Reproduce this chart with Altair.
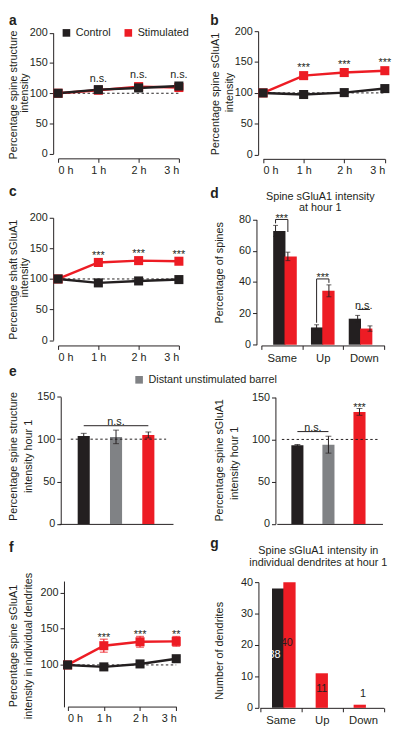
import altair as alt
import pandas as pd

FONT = "Liberation Sans"
INK = "#231f20"
RED = "#ed1c24"
GREY = "#808285"

# ---------------- data ----------------
times = [0, 1, 2, 3]
groups = ["Control", "Stimulated"]

a_control = [100, 106, 108.8, 112]
a_control_err = [1.5, 2, 2, 2.5]
a_stim = [100, 105, 111, 109.5]
a_stim_err = [1.5, 2, 2.5, 2.5]
a_sig = ["", "n.s.", "n.s.", "n.s."]

b_control = [100, 97.4, 100.5, 107]
b_control_err = [1.5, 2, 2, 2.5]
b_stim = [100, 128, 133, 136]
b_stim_err = [1.5, 3, 3, 3.5]
b_sig = ["", "***", "***", "***"]

c_control = [100, 93.6, 96.8, 99]
c_control_err = [1.5, 2, 2, 2]
c_stim = [100, 127, 130, 129]
c_stim_err = [1.5, 3, 3, 3]
c_sig = ["", "***", "***", "***"]

d_cats = ["Same", "Up", "Down"]
d_control = [72.7, 11, 16.6]
d_control_err = [3.5, 1.7, 2.1]
d_stim = [56.4, 34.4, 10.3]
d_stim_err = [2.7, 3.8, 1.7]
d_sig = ["***", "***", "n.s."]

e_groups = ["Control", "Distant unstimulated barrel", "Stimulated"]
e_structure = [103.9, 102.7, 105]
e_structure_err = [3, 8, 3.5]
e_glua = [93, 93.8, 132.6]
e_glua_err = [1, 10, 4]

f_control = [100, 97.3, 101.4, 108.6]
f_control_err = [1.5, 2.5, 2.5, 3]
f_stim = [100, 126.6, 132, 132.6]
f_stim_err = [1.5, 9, 7.5, 6.8]
f_sig = ["", "***", "***", "**"]

g_cats = ["Same", "Up", "Down"]
g_control = [38, 0, 0]
g_stim = [40, 11, 1]


# ---------------- helpers ----------------
def text_layer(txt, x, y, size=11, weight="normal", align="left",
               baseline="alphabetic", color=INK, angle=0):
    kw = dict(font=FONT, fontSize=size, fontWeight=weight, align=align,
              baseline=baseline, color=color)
    if angle:
        kw["angle"] = angle
    return alt.Chart(pd.DataFrame({"t": [txt]})).mark_text(**kw).encode(
        x=alt.value(x), y=alt.value(y), text="t:N")


def title_layers(lines, xs, ycs):
    """Rotated y-axis title, one text layer per line."""
    return [text_layer(t, x, y, align="center", baseline="middle", angle=270)
            for t, x, y in zip(lines, xs, ycs)]


def y_axis(p):
    return alt.Axis(values=p["yticks"], offset=p["yoff"], title=None)


def line_panel(ctrl, ctrl_err, stim, stim_err, sig, p, legend=None):
    recs = []
    for grp, vals, errs in (("Stimulated", stim, stim_err), ("Control", ctrl, ctrl_err)):
        for t, v, e in zip(times, vals, errs):
            recs.append({"time": t, "group": grp, "value": v, "lo": v - e, "hi": v + e})
    df = pd.DataFrame(recs)
    tops = df.groupby("time")["hi"].max()
    sig_df = pd.DataFrame({"time": times, "label": sig, "top": [tops[t] for t in times]})

    xs = alt.Scale(domain=[0, 3], range=p["xr"], nice=False, zero=False)
    ys = alt.Scale(domain=p["ydom"], range=p["yr"], nice=False, zero=False)
    xax = alt.Axis(values=times, labelExpr="datum.value + ' h'", offset=p["xoff"], title=None)
    yax = y_axis(p)

    def X(f):
        return alt.X(f, type="quantitative", scale=xs, axis=xax)

    def Y(f):
        return alt.Y(f, type="quantitative", scale=ys, axis=yax)

    layers = []
    ref = pd.DataFrame({"x0": [0], "x1": [3], "y": [100]})
    layers.append(alt.Chart(ref).mark_rule(color=INK, strokeWidth=1, strokeDash=[2.5, 2.5]).encode(
        x=X("x0"), x2="x1:Q", y=Y("y")))
    for grp, col in (("Stimulated", RED), ("Control", INK)):
        sub = df[df["group"] == grp]
        base = alt.Chart(sub)
        layers.append(base.mark_line(color=col, strokeWidth=2.5).encode(x=X("time"), y=Y("value")))
        layers.append(base.mark_rule(color=col, strokeWidth=1.2).encode(x=X("time"), y=Y("lo"), y2="hi:Q"))
        for end in ("lo", "hi"):
            layers.append(base.mark_tick(orient="horizontal", color=col, size=p["cap"], thickness=1.2).encode(
                x=X("time"), y=Y(end)))
    layers.append(alt.Chart(df).mark_square(size=85, opacity=1).encode(
        x=X("time"), y=Y("value"),
        fill=alt.Fill("group:N", scale=alt.Scale(domain=groups, range=[INK, RED]), legend=legend)))
    layers.append(alt.Chart(sig_df).mark_text(font=FONT, fontSize=11, color=INK, dy=p["sdy"],
                                             baseline="alphabetic").encode(
        x=X("time"), y=Y("top"), text="label:N"))
    layers += title_layers(p["title"], p["tx"], p["ty"])
    lt, lx, ly = p["letter"]
    layers.append(text_layer(lt, lx, ly, size=14, weight="bold"))
    return alt.layer(*layers).properties(width=192, height=p["h"])


LEG = dict(title=None, orient="none", direction="horizontal", symbolType="square",
           symbolSize=60, symbolStrokeWidth=0, labelFont=FONT, labelFontSize=11,
           labelColor=INK, labelOffset=4, columnPadding=12, padding=0)

# ---------------- panel a ----------------
pa = line_panel(a_control, a_control_err, a_stim, a_stim_err, a_sig, dict(
    h=162, xr=[50, 173], yr=[141.7, 18.7], ydom=[0, 200], yticks=[0, 50, 100, 150, 200],
    yoff=-45, xoff=-15.5, title=["Percentage spine structure", "intensity"],
    tx=[5.5, 16.5], ty=[82, 80], sdy=-7, cap=7, letter=("a", 0, 11)),
    legend=alt.Legend(legendX=53, legendY=13, **LEG))

# ---------------- panel b ----------------
pb = line_panel(b_control, b_control_err, b_stim, b_stim_err, b_sig, dict(
    h=162, xr=[66.7, 190.7], yr=[142.7, 17], ydom=[0, 200], yticks=[0, 50, 100, 150, 200],
    yoff=-61.7, xoff=-15, title=["Percentage spine sGluA1", "intensity"],
    tx=[19, 33.5], ty=[81, 79.5], sdy=-2.5, cap=7, letter=("b", 13, 11)))

# ---------------- panel c ----------------
pc = line_panel(c_control, c_control_err, c_stim, c_stim_err, c_sig, dict(
    h=192, xr=[50, 173], yr=[169.6, 45], ydom=[0, 200], yticks=[0, 50, 100, 150, 200],
    yoff=-45, xoff=-17, title=["Percentage shaft sGluA1", "intensity"],
    tx=[5.5, 16.5], ty=[108, 106], sdy=-1.5, cap=7, letter=("c", 0, 23)))

# ---------------- panel f ----------------
pf = line_panel(f_control, f_control_err, f_stim, f_stim_err, f_sig, dict(
    h=186, xr=[59.7, 170.3], yr=[173.0, 44.9], ydom=[42, 216], yticks=[100, 150, 200],
    yoff=-56, xoff=-13.3, title=["Percentage spine sGluA1", "intensity in individual dendrites"],
    tx=[5.5, 20], ty=[111, 111], sdy=1.8, cap=8, letter=("f", 0, 15)))

SHIFT = 0.15  # half bar offset in category units


def cat_axis_layer(cats, xr, xoff):
    return alt.Chart(pd.DataFrame({"cat": cats})).mark_point(opacity=0).encode(
        x=alt.X("cat:N", sort=cats,
                scale=alt.Scale(type="band", domain=cats, range=xr, paddingInner=0, paddingOuter=0),
                axis=alt.Axis(tickBand="extent", offset=xoff, title=None, labelAngle=0,
                              labelPadding=3, labelFontSize=11.5)))


# ---------------- panel d ----------------
def d_panel():
    p = dict(yticks=[0, 20, 40, 60, 80], yoff=-60)
    recs = []
    for i, c in enumerate(d_cats):
        for grp, vals, errs, s in (("Control", d_control, d_control_err, -1),
                                   ("Stimulated", d_stim, d_stim_err, 1)):
            recs.append(dict(cat=c, group=grp, pos=i + s * SHIFT, value=vals[i],
                             lo=vals[i] - errs[i], hi=vals[i] + errs[i]))
    df = pd.DataFrame(recs)
    segs, labs = [], []
    for i, lab in enumerate(d_sig):
        hc = d_control[i] + d_control_err[i]
        hs = d_stim[i] + d_stim_err[i]
        top = max(hc, hs) + 3.8
        xl, xr_ = i - SHIFT, i + SHIFT
        segs.append(dict(x=xl, x2=xr_, y=top, y2=top))
        if lab != "n.s.":
            segs.append(dict(x=xl, x2=xl, y=top, y2=hc + 1.3))
            segs.append(dict(x=xr_, x2=xr_, y=top, y2=max(hs + 1.3, top - 8)))
        labs.append(dict(x=i, y=top, label=lab))
    seg_df = pd.DataFrame(segs)
    lab_df = pd.DataFrame(labs)
    xs = alt.Scale(domain=[-0.5, 2.5], range=[64.8, 190.2], nice=False, zero=False)
    ys = alt.Scale(domain=[0, 80], range=[174.2, 46.7], nice=False, zero=False)
    yax = y_axis(p)

    def X(f):
        return alt.X(f, type="quantitative", scale=xs, axis=None)

    def Y(f):
        return alt.Y(f, type="quantitative", scale=ys, axis=yax)

    base = alt.Chart(df)
    layers = [
        base.mark_bar(size=12.5).encode(
            x=X("pos"), y=Y("value"), y2=alt.datum(0),
            fill=alt.Fill("group:N", scale=alt.Scale(domain=groups, range=[INK, RED]), legend=None)),
        base.mark_rule(color=INK, strokeWidth=1).encode(x=X("pos"), y=Y("lo"), y2="hi:Q"),
        base.mark_tick(orient="horizontal", color=INK, size=5, thickness=1).encode(x=X("pos"), y=Y("hi")),
        base.mark_tick(orient="horizontal", color=INK, size=5, thickness=1).encode(x=X("pos"), y=Y("lo")),
        alt.Chart(seg_df).mark_rule(color=INK, strokeWidth=1).encode(
            x=X("x"), x2="x2:Q", y=Y("y"), y2="y2:Q"),
        alt.Chart(lab_df[lab_df["label"] != "n.s."]).mark_text(
            font=FONT, fontSize=11, color=INK, dy=-0.8).encode(x=X("x"), y=Y("y"), text="label:N"),
        alt.Chart(lab_df[lab_df["label"] == "n.s."]).mark_text(
            font=FONT, fontSize=11, color=INK, dy=-3.4).encode(x=X("x"), y=Y("y"), text="label:N"),
        cat_axis_layer(d_cats, [64.8, 190.2], -17),
        text_layer("Spine sGluA1 intensity", 125, 24.3, align="center", baseline="middle"),
        text_layer("at hour 1", 125, 35.3, align="center", baseline="middle"),
        text_layer("d", 13, 25, size=14, weight="bold"),
    ] + title_layers(["Percentage of spines"], [22.5], [101])
    return alt.layer(*layers).resolve_scale(x="independent").properties(width=192, height=192)


pd_ = d_panel()


# ---------------- panel e ----------------
def e_panel(vals, errs, p, legend=None, ns_span=(0, 2), stars=None, letter=None):
    recs = []
    for i, g in enumerate(e_groups):
        recs.append(dict(group=g, pos=i, value=vals[i], lo=vals[i] - errs[i], hi=vals[i] + errs[i]))
    df = pd.DataFrame(recs)
    a, b = ns_span
    ns_y = max(df["hi"][a:b + 1]) + p["nspad"]
    ns_df = pd.DataFrame({"x": [a], "x2": [b], "y": [ns_y], "xm": [(a + b) / 2], "label": ["n.s."]})
    xs = alt.Scale(domain=p["xdom"], range=p["xr"], nice=False, zero=False)
    ys = alt.Scale(domain=[0, 150], range=p["yr"], nice=False, zero=False)
    xax = alt.Axis(labels=False, ticks=False, offset=-13.3, title=None)
    yax = y_axis(p)

    def X(f):
        return alt.X(f, type="quantitative", scale=xs, axis=xax)

    def Y(f):
        return alt.Y(f, type="quantitative", scale=ys, axis=yax)

    base = alt.Chart(df)
    ref = pd.DataFrame({"x0": [p["ref"][0]], "x1": [p["ref"][1]], "y": [100]})
    layers = [
        base.mark_bar(size=12.3).encode(
            x=X("pos"), y=Y("value"), y2=alt.datum(0),
            fill=alt.Fill("group:N", scale=alt.Scale(domain=e_groups, range=[INK, GREY, RED]),
                          legend=legend)),
        base.mark_rule(color=INK, strokeWidth=1).encode(x=X("pos"), y=Y("lo"), y2="hi:Q"),
        base.mark_tick(orient="horizontal", color=INK, size=6, thickness=1).encode(x=X("pos"), y=Y("hi")),
        base.mark_tick(orient="horizontal", color=INK, size=6, thickness=1).encode(x=X("pos"), y=Y("lo")),
        alt.Chart(ref).mark_rule(color=INK, strokeWidth=1, strokeDash=[2.5, 2.5]).encode(
            x=X("x0"), x2="x1:Q", y=Y("y")),
        alt.Chart(ns_df).mark_rule(color=INK, strokeWidth=1).encode(x=X("x"), x2="x2:Q", y=Y("y")),
        alt.Chart(ns_df).mark_text(font=FONT, fontSize=11, color=INK, dy=p["nsdy"]).encode(
            x=X("xm"), y=Y("y"), text="label:N"),
    ]
    if stars is not None:
        sdf = df.iloc[[stars]].assign(label="***")
        layers.append(alt.Chart(sdf).mark_text(font=FONT, fontSize=11, color=INK, dy=0).encode(
            x=X("pos"), y=Y("hi"), text="label:N"))
    layers += title_layers(p["title"], p["tx"], p["ty"])
    if letter is not None:
        layers.append(text_layer(letter[0], letter[1], letter[2], size=14, weight="bold"))
    return alt.layer(*layers).properties(width=192, height=178)


pe1 = e_panel(e_structure, e_structure_err, dict(
    yticks=[0, 50, 100, 150], yoff=-52.7, yr=[164.7, 35.3], xdom=[-0.611, 2.611], xr=[51, 167],
    title=["Percentage spine structure", "intensity hour 1"], tx=[5.5, 20], ty=[96, 96],
    nspad=5.2, nsdy=-3.8, ref=(-0.4, 2.55)),
    legend=alt.Legend(values=["Distant unstimulated barrel"], legendX=127, legendY=12.5, **LEG),
    ns_span=(0, 2), letter=("e", 0, 14))

pe2 = e_panel(e_glua, e_glua_err, dict(
    yticks=[0, 50, 100, 150], yoff=-79.3, yr=[164.7, 35.7], xdom=[-0.505, 2.582], xr=[80.7, 188.3],
    title=["Percentage spine sGluA1", "intensity hour 1"], tx=[23, 38], ty=[100, 103],
    nspad=5.5, nsdy=-3.1, ref=(-0.5, 2.58)),
    ns_span=(0, 1), stars=2)


# ---------------- panel g ----------------
def g_panel():
    p = dict(yticks=[0, 10, 20, 30, 40], yoff=-62)
    recs = []
    for i, c in enumerate(g_cats):
        both = g_control[i] > 0 and g_stim[i] > 0
        for grp, vals, s in (("Control", g_control, -1), ("Stimulated", g_stim, 1)):
            v = vals[i]
            if v <= 0:
                continue
            recs.append(dict(cat=c, group=grp, pos=i + (s * 0.149 if both else 0), value=v,
                             label=str(v), ly=(v / 2 if v >= 5 else v + 2.8)))
    df = pd.DataFrame(recs)
    xs = alt.Scale(domain=[-0.5, 2.5], range=[63.5, 189.5], nice=False, zero=False)
    ys = alt.Scale(domain=[0, 40], range=[174, 46], nice=False, zero=False)
    yax = y_axis(p)

    def X(f):
        return alt.X(f, type="quantitative", scale=xs, axis=None)

    def Y(f):
        return alt.Y(f, type="quantitative", scale=ys, axis=yax)

    layers = [
        alt.Chart(df).mark_bar(size=12.5).encode(
            x=X("pos"), y=Y("value"), y2=alt.datum(0),
            fill=alt.Fill("group:N", scale=alt.Scale(domain=groups, range=[INK, RED]), legend=None)),
        alt.Chart(df[df["group"] == "Control"]).mark_text(
            font=FONT, fontSize=11, color="white", baseline="middle", dy=7.5).encode(
            x=X("pos"), y=Y("ly"), text="label:N"),
        alt.Chart(df[df["group"] == "Stimulated"]).mark_text(
            font=FONT, fontSize=11, color=INK, baseline="middle", dy=-1.5).encode(
            x=X("pos"), y=Y("ly"), text="label:N"),
        cat_axis_layer(g_cats, [63.5, 189.5], -12),
        text_layer("Spine sGluA1 intensity in", 123, 14, align="center", baseline="middle"),
        text_layer("individual dendrites at hour 1", 123, 26.3, align="center", baseline="middle"),
        text_layer("g", 13, 11, size=14, weight="bold"),
    ] + title_layers(["Number of dendrites"], [22.5], [116])
    return alt.layer(*layers).resolve_scale(x="independent").properties(width=192, height=186)


pg = g_panel()

chart = alt.concat(pa, pb, pc, pd_, pe1, pe2, pf, pg, columns=2, spacing=0,
                   bounds="flush", align="each").resolve_scale(
    fill="independent", color="independent").properties(padding=0).configure_view(
    stroke=None).configure_axis(
    labelFont=FONT, titleFont=FONT, labelFontSize=11, titleFontSize=11,
    titleFontWeight="normal", labelColor=INK, titleColor=INK, domainColor=INK,
    tickColor=INK, tickSize=4, tickWidth=1, domainWidth=1, labelPadding=2, grid=False)

chart.save("out.html", embed_options={"renderer": "svg", "actions": False})
